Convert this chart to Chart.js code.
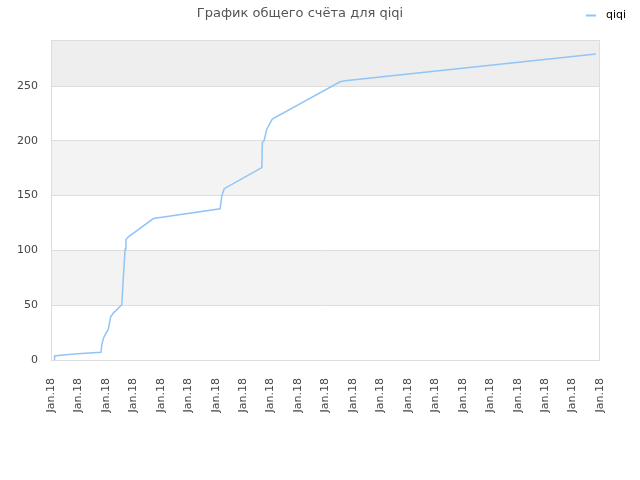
<!DOCTYPE html>
<html>
<head>
<meta charset="utf-8">
<script src="https://cdn.jsdelivr.net/npm/chart.js@4"></script>
<style>
  html, body { margin: 0; padding: 0; background: #fff; }
  #scoreChart { display: block; }
</style>
</head>
<body>
<canvas id="scoreChart" width="640" height="480"></canvas>
<script>
const chartTitle = 'График общего счёта для qiqi';
const seriesName = 'qiqi';
const xLabels = Array(21).fill('Jan.18');
const xValues = [0.13, 0.13, 0.44, 0.98, 1.53, 1.82, 1.85, 1.91, 1.97, 2.09, 2.17, 2.27, 2.58, 2.61, 2.63, 2.70, 2.73, 2.82, 3.73, 6.16, 6.22, 6.31, 7.68, 7.70, 7.76, 7.86, 8.06, 10.53, 10.71, 19.85];
const scoreValues = [0, 3.7, 4.6, 5.8, 6.7, 7.1, 13.7, 19.9, 22.9, 28.1, 39.1, 42.8, 50.4, 64.1, 73.3, 101.4, 109.9, 112.4, 129.1, 138.0, 149.5, 156.3, 175.5, 198.4, 199.9, 210.6, 219.8, 253.9, 254.9, 279.3];
const yMax = 292;

const fontFamily = '"DejaVu Sans", sans-serif';
const lineColor = '#92c5f5';

// alternating bands behind the plot + frame
const bandsPlugin = {
  id: 'bands',
  beforeDraw(chart) {
    const { ctx, chartArea: a, scales: { y } } = chart;
    const bands = [
      [0, 50, '#ffffff'], [50, 100, '#f3f3f3'], [100, 150, '#ffffff'],
      [150, 200, '#f3f3f3'], [200, 250, '#ffffff'], [250, yMax, '#eeeeee']
    ];
    ctx.save();
    bands.forEach(([lo, hi, c]) => {
      const top = y.getPixelForValue(hi);
      const bot = y.getPixelForValue(lo);
      ctx.fillStyle = c;
      ctx.fillRect(a.left, top, a.right - a.left, bot - top);
    });
    ctx.restore();
  },
  afterDraw(chart) {
    const { ctx, chartArea: a } = chart;
    ctx.save();
    ctx.strokeStyle = '#dddddd';
    ctx.lineWidth = 1;
    ctx.strokeRect(a.left + 0.5, a.top + 0.5, a.right - a.left - 1, a.bottom - a.top);
    // legend at top right
    ctx.strokeStyle = lineColor;
    ctx.lineWidth = 2;
    ctx.beginPath();
    ctx.moveTo(586, 15.5);
    ctx.lineTo(596, 15.5);
    ctx.stroke();
    ctx.fillStyle = '#000';
    ctx.font = '11px ' + fontFamily;
    ctx.textBaseline = 'middle';
    ctx.fillText(seriesName, 606, 15);
    ctx.restore();
  }
};

const ctx = document.getElementById('scoreChart').getContext('2d');
new Chart(ctx, {
  type: 'line',
  data: {
    datasets: [{
      label: seriesName,
      data: xValues.map((x, i) => ({ x: x, y: scoreValues[i] })),
      borderColor: lineColor,
      borderWidth: 1.5,
      pointRadius: 0,
      tension: 0,
      fill: false
    }]
  },
  options: {
    responsive: false,
    animation: false,
    layout: { padding: { left: 0, right: 40, top: 0, bottom: 0 } },
    plugins: {
      legend: { display: false },
      tooltip: { enabled: false },
      title: {
        display: true,
        text: chartTitle,
        color: '#555555',
        font: { family: fontFamily, size: 13, weight: 'normal', lineHeight: 1.2 },
        padding: { top: 6, bottom: 18.4 }
      }
    },
    scales: {
      x: {
        type: 'linear',
        min: 0,
        max: 20,
        afterFit: s => { s.height = 120; },
        grid: { display: false },
        border: { display: false },
        ticks: {
          stepSize: 1,
          autoSkip: false,
          maxRotation: 90,
          minRotation: 90,
          padding: 10,
          color: '#444444',
          font: { family: fontFamily, size: 11 },
          callback: (v) => xLabels[v]
        }
      },
      y: {
        min: 0,
        max: yMax,
        afterFit: s => { s.width = 51; },
        grid: { color: '#dddddd', drawTicks: false },
        border: { display: false },
        ticks: {
          stepSize: 50,
          includeBounds: false,
          padding: 13,
          color: '#444444',
          font: { family: fontFamily, size: 11 }
        }
      }
    }
  },
  plugins: [bandsPlugin]
});
</script>
</body>
</html>
